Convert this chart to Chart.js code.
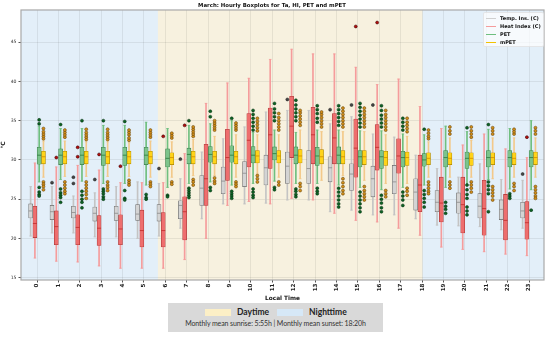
<!DOCTYPE html>
<html>
<head>
<meta charset="utf-8">
<script src="https://cdn.jsdelivr.net/npm/chart.js@4/dist/chart.umd.min.js"></script>
<style>
  body { margin: 0; background: #fff; font-family: "DejaVu Sans", sans-serif; }
  #wrap { position: relative; width: 550px; height: 337px; overflow: hidden; }
  #chartBox { position: absolute; left: 0; top: 0; width: 550px; height: 302px; }
  #leyenda { position: absolute; left: 483px; top: 12px; width: 59px; height: 33px;
    background: rgba(255,255,255,0.7); border: 1px solid rgba(215,215,215,0.6); border-radius: 2px; }
  #leyenda div { position: absolute; left: 16px; font-size: 5px; font-weight: bold; color: #111; line-height: 6px; white-space: nowrap; }
  #leyenda span { position: absolute; left: 2px; width: 10px; height: 1.8px; }
  #caja { position: absolute; left: 168px; top: 303px; width: 215px; height: 29px; background: #d9d9d9; }
  #caja .sw { position: absolute; top: 6px; width: 26px; height: 7px; }
  #caja .et { position: absolute; top: 4px; font-family: Lato, sans-serif; font-weight: bold; font-size: 8.5px; color: #222; }
  #caja .pie { position: absolute; left: 0; width: 215px; top: 16px; text-align: center; font-family: Lato, sans-serif; font-size: 7px; color: #333; letter-spacing: -0.1px; }
</style>
</head>
<body>
<div id="wrap">
  <div id="chartBox"><canvas id="myChart"></canvas></div>
  <div id="leyenda">
    <span style="top:4.5px;background:#d0d0d0"></span><div style="top:2px">Temp. Ins. (C)</div>
    <span style="top:12.5px;background:#f59c9c"></span><div style="top:10px">Heat Index (C)</div>
    <span style="top:20.5px;background:#6fbf7f"></span><div style="top:18px">PET</div>
    <span style="top:28.5px;background:#f2c200"></span><div style="top:26px">mPET</div>
  </div>
  <div id="caja">
    <div class="sw" style="left:37px;background:#fcefc6"></div>
    <div class="et" style="left:69px">Daytime</div>
    <div class="sw" style="left:109px;background:#d6e8f7"></div>
    <div class="et" style="left:141px">Nighttime</div>
    <div class="pie">Monthly mean sunrise: 5:55h | Monthly mean sunset: 18:20h</div>
  </div>
</div>
<script>
let horas = [0,1,2,3,4,5,6,7,8,9,10,11,12,13,14,15,16,17,18,19,20,21,22,23];
let yTicks = [15, 20, 25, 30, 35, 40, 45];
let inicioDia = 5.65;
let finDia = 18.02;

// [bigote inferior, q1, mediana, q3, bigote superior] por hora
let taBox = [
  [20.3,22.6,23.5,24.4,26.6],[20.7,22.4,23.4,24.2,26.6],[20.7,22.6,23.3,24.1,25.4],[20.2,22.2,23.2,24.0,25.8],
  [20.2,22.3,23.2,24.1,26.6],[20.0,22.3,23.1,24.3,27.2],[20.3,22.2,23.2,24.3,27.0],[21.3,22.5,24.2,24.8,27.6],
  [22.5,24.2,26.4,28.0,31.0],[24.4,25.7,27.3,29.1,32.7],[24.4,26.6,28.3,29.8,34.2],[24.5,26.8,29.0,30.6,36.1],
  [24.9,27.0,29.2,31.0,36.3],[24.9,27.0,28.9,31.2,36.3],[23.4,27.2,29.0,30.4,34.6],[23.6,26.1,28.2,29.5,35.5],
  [23.0,25.3,27.6,29.2,33.3],[23.0,25.7,27.2,29.3,32.9],[22.5,23.6,25.9,27.6,30.6],[21.7,23.4,24.6,26.1,28.9],
  [21.6,23.2,24.6,25.8,27.8],[21.5,22.6,24.1,25.7,29.5],[21.1,22.4,23.7,24.9,27.5],[21.3,22.6,23.5,24.6,27.4]
];
let taOut = [[],[27.1],[27.0,27.8],[27.5],[],[],[28.9],[30.1],[],[],[],[],
  [37.7],[],[36.4],[37.0],[37.0],[],[],[],[],[],[],[28.2]];

let hiBox = [
  [17.5,20.1,21.9,24.1,29.6],[17.1,19.2,21.5,23.5,29.1],[17.0,19.2,21.4,23.0,29.3],[16.5,19.1,21.3,22.9,28.7],
  [16.2,19.2,21.2,23.0,27.1],[16.2,18.9,21.0,23.6,27.1],[16.2,18.9,21.0,23.3,27.1],[17.3,19.8,23.4,25.3,30.8],
  [20.0,24.2,27.6,32.0,37.2],[24.2,27.4,30.3,33.9,39.8],[24.7,29.1,32.5,35.9,40.4],[24.4,28.9,33.2,36.6,42.8],
  [25.1,30.3,34.3,38.1,44.1],[24.9,29.5,33.2,36.7,43.5],[23.2,29.5,32.8,35.9,43.5],[22.3,27.8,31.5,35.2,41.8],
  [22.1,28.7,31.6,34.5,39.6],[21.3,28.3,30.5,32.7,40.3],[20.4,23.4,26.8,30.6,36.8],[18.9,22.1,24.5,27.8,34.0],
  [18.6,20.7,24.3,27.8,31.9],[18.3,20.4,23.8,27.4,33.3],[18.0,19.8,22.3,25.6,31.4],[17.8,19.9,22.0,24.7,30.3]
];
let hiOut = [[],[30.3],[30.4,31.6],[30.7],[29.2],[],[33.0],[34.4],[],[],[],[],
  [],[],[],[47.0],[47.5],[],[],[],[],[],[],[32.9]];

let petBox = [
  [27.2,29.45,30.6,31.6,34.3],[27.5,29.4,30.6,31.4,34.0],[27.3,29.4,30.6,31.6,34.0],[27.0,29.3,30.6,31.6,34.4],
  [27.0,29.3,30.6,31.6,34.4],[26.8,29.4,30.6,31.6,34.8],[26.5,29.1,30.2,31.4,34.0],[27.0,29.5,30.7,31.5,34.4],
  [27.2,29.7,30.7,31.7,34.6],[26.8,29.7,30.6,31.8,35.0],[27.0,29.6,30.6,31.7,33.5],[27.3,30.0,30.8,31.65,33.8],
  [27.0,29.5,30.6,31.65,33.5],[27.0,29.3,30.5,31.6,33.8],[26.8,29.5,30.6,31.65,33.8],[26.5,29.1,30.4,31.2,33.7],
  [26.2,28.9,30.4,31.2,33.7],[26.5,29.1,30.3,31.1,33.3],[26.8,29.2,30.0,30.8,33.2],[26.5,29.1,30.3,31.2,34.3],
  [26.8,28.9,30.2,31.0,33.6],[27.5,29.1,30.3,31.2,33.9],[26.3,29.1,30.3,31.2,34.0],[26.2,29.1,30.3,31.2,35.0]
];
let petOut = [
  [35.1,34.6,26.5,25.9,25.6,25.4],[34.5,26.3,25.8,25.5,25.2,24.6],[35.0,26.0,25.5,25.0,24.6,23.9],
  [35.0,26.3,26.0,25.7,25.3,25.0],[34.9,26.1,25.1,24.9],[25.6,25.2,25.0],[25.5,25.3],
  [35.0,26.4,26.1,25.8,25.5,25.2],[35.5,36.2,26.5,26.1],[35.3,26.0,25.7,25.4,25.1],
  [33.8,34.3,34.8,35.3,35.8,36.3,26.3,25.9,25.5,25.2],[35.0,35.5,36.0,36.5,37.2,26.5,26.2],
  [35.0,35.5,36.0,36.5,37.0,37.6,26.3,26.0,25.6,25.3],[34.8,35.3,35.9,36.4,36.9,26.4,26.0,25.7],
  [34.4,34.9,35.4,35.9,36.4,36.9,26.4,25.9,25.4,24.9,24.4,24.0],
  [34.2,34.7,35.2,35.7,36.2,36.7,37.2,25.9,25.4,24.9,24.4,23.9,23.4],
  [34.2,34.7,35.2,35.7,36.3,36.9,25.5,25.0,24.5,23.9,23.4],[33.8,34.3,34.8,35.3,25.9,25.4,24.9,24.2],
  [33.9,26.1,25.6,25.1,24.6,24.0],[24.6,24.1,23.7,23.2],[34.1,26.8,26.2,25.6,25.1,24.0,23.5,23.0],
  [34.5,27.2,26.7,26.2,25.7,23.4],[25.7,25.4,25.1],[23.6]
];

let mpetBox = [
  [27.8,29.5,30.4,31.1,32.4],[27.9,29.5,30.4,31.1,32.4],[27.9,29.5,30.4,31.1,32.3],[27.9,29.5,30.4,31.1,32.3],
  [27.9,29.5,30.4,31.1,32.2],[27.8,29.5,30.4,31.1,32.4],[27.8,29.4,30.3,30.9,32.3],[28.0,29.5,30.4,31.1,32.6],
  [28.0,29.5,30.4,31.1,33.0],[27.8,29.5,30.4,31.1,33.2],[28.3,29.6,30.5,31.2,33.2],[27.8,29.6,30.5,31.2,33.2],
  [27.6,29.6,30.5,31.3,33.8],[27.4,29.5,30.4,31.3,33.6],[28.0,29.5,30.4,31.2,33.6],[27.4,29.4,30.4,31.2,33.6],
  [27.0,29.3,30.3,31.1,33.2],[27.0,29.3,30.3,31.0,33.0],[27.8,29.4,30.2,30.9,32.3],[27.8,29.4,30.2,30.9,32.8],
  [27.8,29.3,30.2,30.9,32.5],[27.6,29.4,30.3,30.9,32.8],[27.8,29.4,30.2,30.9,32.8],[27.8,29.4,30.3,31.0,32.8]
];
let mpetOut = [
  [32.7,33.0,33.3,33.6,34.0,27.2,26.9,26.6,26.2],[32.9,33.2,33.5,33.8,27.2,26.8,26.4,26.0,25.7],
  [32.6,32.9,33.2,33.5,33.9,27.2,26.8,26.4,26.0,25.6,25.1],[32.6,32.9,33.2,33.5,33.9,27.2,26.8,26.5,26.1],
  [32.5,32.8,33.2,33.5,33.8,27.4,27.1,26.8],[32.9,33.2,33.5,33.8,27.2,26.9,26.6],[32.8,33.1,33.4,27.2,26.9],
  [33.0,33.3,33.6,33.9,34.2,27.5,27.2,26.8],[33.8,34.1,34.4,34.7,35.0,27.7,27.3,27.0],
  [33.8,34.1,34.4,34.7,27.2,26.9,26.6],[33.7,34.1,34.5,34.9,35.3,28.0,27.6,27.2],
  [33.8,34.2,34.6,35.0,35.4,35.9,27.2,26.8],[34.4,34.8,35.2,35.6,36.0,36.3,27.0,26.6,26.1],
  [34.2,34.6,35.0,35.4,35.8,36.1],[34.2,34.6,35.0,35.4,35.8,36.2,36.6,27.6,27.1,26.6,26.1,25.7],
  [34.2,34.6,35.0,35.4,35.8,36.2,36.6,26.6,26.1,25.7,25.3,24.9],
  [33.8,34.2,34.6,35.0,35.4,35.8,36.3,26.1,25.7,25.3],[33.6,34.0,34.4,34.8,35.3,26.4,26.0,25.5],
  [32.7,33.0,33.4,33.8,27.2,26.8,26.4,26.0,25.7],[33.3,33.7,34.2,27.2,26.8,26.4],
  [32.9,33.3,33.7,34.2,27.2,26.8,26.4,25.9],[33.3,33.7,34.1,26.6,26.2,25.8,25.4,24.9],
  [33.3,33.6,33.9,27.0,26.6,26.1],[33.3,33.7,34.1,26.6,26.2,25.8,25.4,25.1]
];

let series = [
  { box: taBox, out: taOut, off: -0.3, fill: "#d4d4d4", edge: "#6a6a6a", whisk: "#c4c4c4", med: "#8a8a8a", dot: "#454545", dotEdge: "#1a1a1a" },
  { box: hiBox, out: hiOut, off: -0.1, fill: "#ee6e6e", edge: "#a83232", whisk: "#f59c9c", med: "#c22a2a", dot: "#b50d0d", dotEdge: "#2a0000" },
  { box: petBox, out: petOut, off: 0.1, fill: "#7cc48b", edge: "#3a7f4a", whisk: "#6fbf7f", med: "#2b7a3b", dot: "#0d6324", dotEdge: "#022a0c" },
  { box: mpetBox, out: mpetOut, off: 0.3, fill: "#ffd319", edge: "#a88400", whisk: "#f3c98a", med: "#d08a00", dot: "#d18d1a", dotEdge: "#5a3a00" }
];

let datasets = [];
for (const s of series) {
  datasets.push({
    type: "bar", order: 4, grouped: false, barThickness: 1,
    backgroundColor: s.whisk, borderWidth: 0,
    data: horas.map((h, i) => ({ x: h + s.off, y: [s.box[i][0], s.box[i][4]] }))
  });
  datasets.push({
    type: "bar", order: 3, grouped: false, barThickness: 4,
    backgroundColor: s.fill, borderColor: s.edge, borderWidth: 0.6, borderSkipped: false,
    data: horas.map((h, i) => ({ x: h + s.off, y: [s.box[i][1], s.box[i][3]] }))
  });
  let topes = [];
  horas.forEach((h, i) => {
    topes.push({ x: h + s.off, y: s.box[i][0] });
    topes.push({ x: h + s.off, y: s.box[i][4] });
  });
  datasets.push({
    type: "scatter", order: 2, data: topes, pointStyle: "line",
    pointRadius: 1.3, pointBorderWidth: 0.8, pointBorderColor: s.whisk
  });
  datasets.push({
    type: "scatter", order: 1, pointStyle: "line",
    pointRadius: 2, pointBorderWidth: 0.8, pointBorderColor: s.med,
    data: horas.map((h, i) => ({ x: h + s.off, y: s.box[i][2] }))
  });
  let puntos = [];
  horas.forEach((h, i) => {
    for (const v of s.out[i]) puntos.push({ x: h + s.off, y: v });
  });
  datasets.push({
    type: "scatter", order: 0, data: puntos, pointStyle: "circle",
    pointRadius: 1.5, pointBackgroundColor: s.dot, pointBorderColor: s.dotEdge, pointBorderWidth: 0.5
  });
}

let fondo = {
  id: "fondo",
  beforeDraw(chart) {
    const { ctx, chartArea: a, scales } = chart;
    ctx.save();
    ctx.fillStyle = "#e3eff9";
    ctx.fillRect(a.left, a.top, a.right - a.left, a.bottom - a.top);
    const x1 = scales.x.getPixelForValue(inicioDia);
    const x2 = scales.x.getPixelForValue(finDia);
    ctx.fillStyle = "#f7f1df";
    ctx.fillRect(x1, a.top, x2 - x1, a.bottom - a.top);
    ctx.restore();
  },
  afterDraw(chart) {
    const { ctx, chartArea: a } = chart;
    ctx.save();
    ctx.strokeStyle = "#a8a8a8";
    ctx.lineWidth = 1.2;
    ctx.strokeRect(a.left, a.top, a.right - a.left, a.bottom - a.top);
    ctx.restore();
  }
};

let grafico = new Chart(document.querySelector("#myChart"), {
  type: "bar",
  data: { datasets },
  plugins: [fondo],
  options: {
    responsive: true,
    maintainAspectRatio: false,
    animation: false,
    events: [],
    layout: { padding: { left: 0, right: 6, top: 0, bottom: 0 } },
    plugins: {
      legend: { display: false },
      tooltip: { enabled: false },
      title: {
        display: true,
        text: "March: Hourly Boxplots for Ta, HI, PET and mPET",
        color: "#111",
        font: { family: "DejaVu Sans", size: 5.4, weight: "bold" },
        padding: { top: 2, bottom: 1.5 }
      }
    },
    scales: {
      x: {
        type: "linear",
        min: -0.75,
        max: 23.7,
        offset: false,
        afterBuildTicks: s => { s.ticks = horas.map(v => ({ value: v })); },
        afterFit: s => { s.height = 22; },
        ticks: {
          autoSkip: false, minRotation: 90, maxRotation: 90, padding: 1,
          color: "#222", font: { family: "DejaVu Sans", size: 5.6, weight: "bold" }
        },
        grid: { color: "rgba(0,0,0,0.07)", offset: false, tickLength: 2.5, tickColor: "#555" },
        border: { display: false },
        title: {
          display: true, text: "Local Time", color: "#111",
          font: { family: "DejaVu Sans", size: 5.8, weight: "bold" }, padding: { top: 0, bottom: 0 }
        }
      },
      y: {
        min: 14.7,
        max: 49.1,
        afterBuildTicks: s => { s.ticks = yTicks.map(v => ({ value: v })); },
        afterFit: s => { s.width = 21; },
        ticks: { color: "#333", padding: 2, font: { family: "DejaVu Sans", size: 4.6 } },
        grid: { color: "rgba(0,0,0,0.07)", tickLength: 2.5, tickColor: "#555" },
        border: { display: false },
        title: {
          display: true, text: "°C", color: "#111",
          font: { family: "DejaVu Sans", size: 5.8, weight: "bold" }, padding: { top: 0, bottom: 0 }
        }
      }
    }
  }
});
</script>
</body>
</html>
